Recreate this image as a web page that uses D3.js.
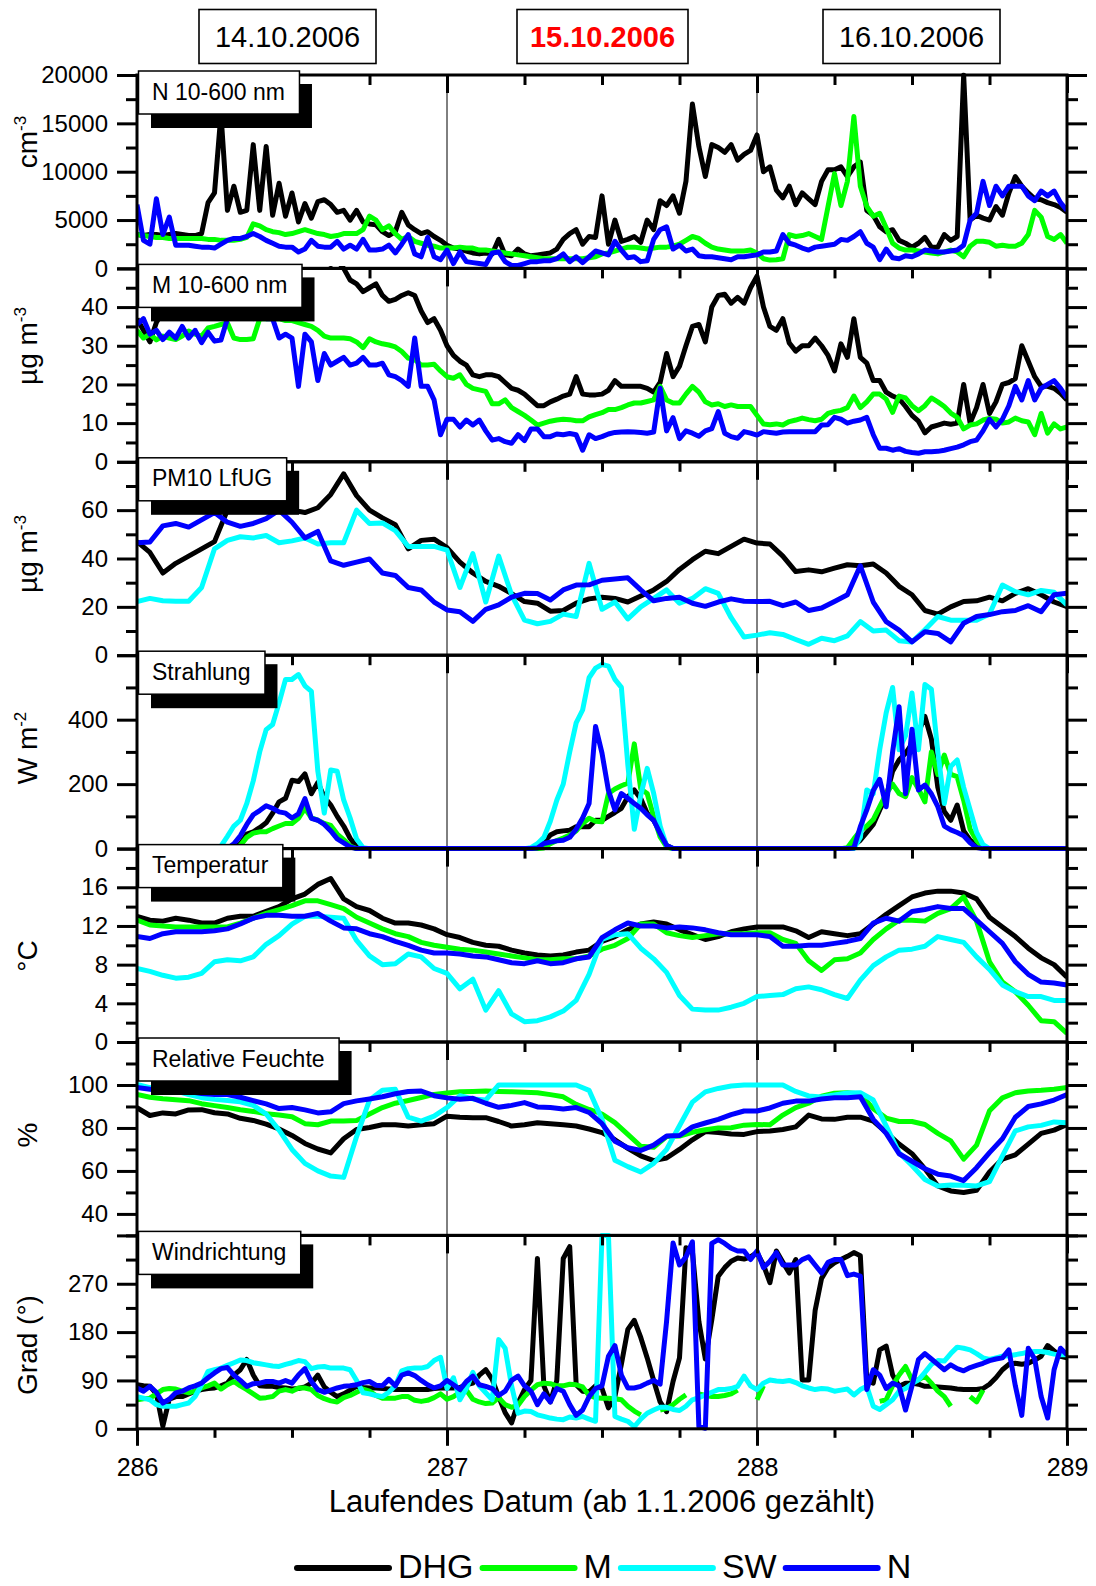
<!DOCTYPE html>
<html><head><meta charset="utf-8">
<script src="https://cdn.jsdelivr.net/npm/d3@7"></script>
<style>
body{margin:0;background:#fff}
svg{display:block}
text{font-family:"Liberation Sans",Arial,Helvetica,sans-serif;fill:#000}
</style>
</head><body>
<svg id="chart" width="1096" height="1586"></svg>
<script>
// ---------------- DATA ----------------
const stations = ["DHG","M","SW","N"];
const stationColors = ["#000000","#00ff00","#00ffff","#0000ff"];
const dayLabels = ["14.10.2006","15.10.2006","16.10.2006"];
const xTicks = [286,287,288,289];
const xMinorTicks = [286.25,286.5,286.75,287.25,287.5,287.75,288.25,288.5,288.75];

// time grids (day of year): half-hourly (145) and hourly (73)
const tHalf = d3.range(145).map(i => 286 + i/48);
const tHour = d3.range(73).map(i => 286 + i/24);

// Panel 1: N 10-600 nm (cm^-3), half-hourly
const nDHG = [3500,3400,3500,3500,3400,3500,3600,3500,3400,3400,3600,
6800,7800,16000,6000,8500,5800,6000,12800,6000,12600,
5500,8800,5400,7800,4800,6700,5200,6900,7100,6600,
5800,6000,5000,6000,4800,4600,4500,3800,3400,3800,
5800,4500,4000,3600,3800,3300,2900,2400,2100,2000,
1800,1600,1500,1600,1500,3000,1400,1300,2000,1500,
1300,1400,1500,1600,2000,3000,3600,4000,2500,3300,
3200,7500,2500,5000,2800,3000,3300,2700,5000,4000,
7000,6500,7500,5700,9000,17000,12600,9500,12800,12500,
12000,12800,11200,11800,12200,13800,10000,10500,8100,7300,
8500,6600,7800,7200,6600,9000,10200,10200,10500,9500,
10500,11000,6000,5500,4300,3800,4000,2900,2600,2200,
2600,3200,2200,2200,3500,2900,3300,20000,5000,5500,
5200,5000,6400,5500,7800,9500,8500,7800,7200,7100,
6800,6600,6300,5800];
const nM = [3500,3400,3300,3200,3200,3100,3100,3100,3100,3100,3100,
3000,3000,2900,2900,2900,3000,3200,4600,4400,4000,
3800,3700,3500,3600,3800,4000,3800,3600,3500,3300,
3400,3600,3600,3600,4000,5400,5000,4000,4400,3600,
3000,3300,2800,2600,2400,2300,2100,2100,2100,2200,
2100,2100,1900,1900,1800,1700,1600,1500,1400,1300,
1200,1100,1000,1000,1000,1000,1000,1000,1000,1100,
1200,1500,1600,1800,2000,2200,2200,2100,2000,2100,
2200,2200,2300,2500,2900,3300,3100,2600,2200,2000,
1900,1800,1800,1800,1900,1600,1000,860,900,1000,
3500,3300,3400,3600,3300,3000,6400,9800,6500,9000,
15700,8500,6400,5400,5700,4200,2600,2100,1900,1900,
1800,1700,1600,1500,1700,1900,1700,1200,2300,2800,
2800,2700,2300,2400,2300,2300,2600,3500,6000,5300,
3300,3000,3500,2600];
const nN = [6600,2900,2500,7200,3500,5300,2400,2400,2400,2300,2200,
2200,2100,2500,2900,3100,3100,3300,3600,3300,2900,
2600,2300,2200,2200,1700,2000,2900,2300,2200,2200,
2800,2000,2400,2000,3000,1900,1900,2000,2400,1600,
2500,3500,1500,1200,3200,1200,900,1900,500,1700,
700,600,500,400,1600,1700,700,300,300,500,
700,700,800,800,1000,1500,700,1200,600,1200,
1800,1600,1400,2800,1900,1100,1200,700,800,3000,
4000,4300,2000,2400,1800,2000,1300,1200,1200,1100,
1000,900,1200,1200,1300,1400,1700,1700,1800,3500,
2600,2400,2100,1900,2200,2300,2400,2500,3000,2900,
3300,3800,2600,2200,900,2000,1100,1000,1300,1200,
1500,1900,1800,1700,1700,1800,1900,2400,5000,5700,
9000,6500,8500,7500,8500,8500,8500,7500,7000,8000,
7500,8000,6800,6000];

// Panel 2: M 10-600 nm (µg m^-3), half-hourly
const mDHG = [37,34,31,36,39,40,41,42,42,43,44,
44,45,46,45,44,45,46,47,48,48,
49,50,51,52,53,54,53,54,52,51,
52,50,47,46,44,45,46,43,41.5,42,
43,43.7,43,39,36,37,34,30,27.5,26,
25,22.5,22,22.5,22.5,22,20.5,19,18.5,17.5,
16,14.5,14.5,15.5,16.2,17,17.5,22,17.5,17.3,
17.3,17.5,18.5,21,19.5,19.5,19.5,19.5,19,18,
20.5,28,22,24.7,30,35,35.5,31,40,43,
43.3,41,42.5,41,45,48,40,35,34,37,
30.7,28.6,30,30,32,30,27.5,23.5,30.5,27,
37,27,25.5,21,21,18,17,16.3,14.3,12,
10.5,7.5,9,9.5,10,9.7,10,20,10,14,
20,12.5,15.5,20,20.5,21.5,30,26,22,19.5,
19.5,19,17.7,16];
const mM = [34,32,33,31.5,32.5,32,31.6,32.5,33.8,33,32.5,
34.6,35,35.5,35.9,32,31.6,31.6,31.8,37,37,
37,37,36.5,36.5,36,35.5,35,34,32.5,32,
32,32,31.8,31,29.5,31.8,31,30.5,30.2,29.7,
28.5,26.8,26.4,25,25,25.2,23.5,22,21.6,22.5,
20,19,18.6,18.2,15,15,16,14,13,12,
10.8,9.5,10,10.5,10.8,11,10.9,10.6,10.6,11.6,
12.2,12.7,13.5,13.5,14,14.7,15.2,15.2,15.6,16,
19.5,16,15.2,15.2,17.5,19.5,18,15.5,14.7,15,
14.3,14.7,14.3,14.3,14.3,12,9.8,9.6,9.8,9.5,
10.4,10.8,11.3,10.9,10.6,11,12.5,13,13.3,14,
17,14,15.5,17.5,17.5,16.2,12.8,17,16.5,14.5,
13.2,14.5,16.5,15.5,14.3,12.6,11.5,8.5,9.5,9.8,
10.8,11.2,11,10,10.3,11.3,10.6,10.3,7,12.5,
7.4,9.8,8.5,9];
const mN = [35.5,37,33,34,31.6,33.5,32,35,32,34,30.8,
33.5,31.2,31.5,37,38,38,38,37,38,37,
37,32,33,32,19.5,33,31,21,28,25,
26,27,25,25.5,27,25,25,25.5,22.5,22,
21,19.5,32,19.5,19.5,16,7,11,11,9,
10.8,9.5,10.8,8,5.6,6,5.2,4.8,7,5.5,
8.5,8.5,6.5,6.5,7.2,7,7.3,7,3,7,
6,6.5,7.2,7.6,7.7,7.8,7.7,7.6,7.4,7.7,
19,8,11.4,6,8,7.4,6.6,8,8.6,13,
7.4,6.5,6.1,7.8,7.4,6.9,7.8,7.6,7.4,7.7,
7.8,7.8,7.8,7.8,7.8,9.5,9.6,11.5,11,10,
10.5,10.8,11.5,7,3.5,3.5,3,3.4,2.7,2.4,
2.2,2.6,2.6,2.7,3,3.4,3.8,4.4,5.2,5.6,
8,11,9,11,14.5,19.5,16,21,16,19,
20,21,19,16.5];

// Panel 3: PM10 LfUG (µg m^-3), hourly
const pmDHG = [47,42.5,34,38,41,44,47,60,61,62,61,
60,60,59,61,66.5,75,66,60,56.8,54,
44,47.5,48,44.5,38.5,34,30.5,28.5,25.5,22.2,
21.5,18.2,18.5,21.5,23.3,24,23.5,22,24.5,27,
30.5,35.5,39.5,43,42,45,48,46.4,46,41,
34.6,35.3,34.5,36,37.4,37,37.7,34,28.5,25,
18.5,17,20,22.2,22.5,24,22.5,25.6,27.5,25,
22,20.1];
const pmSW = [22.2,23.5,22.5,22.3,22.3,28,44,47.5,49,48.5,49.5,
46.5,47.3,48.5,46,46.5,46.5,60,54.5,54.7,51.5,
45,45,45,43.5,28,42,22,41,25,14.5,
13,14,17,16,38,19,22,15,20,23.5,
27,21.5,23.5,27.5,25.6,15.5,7.5,8.3,9.3,8.6,
6.5,4.5,7,6,8,13.9,10,10.4,6,5.5,
10.5,16,14.5,14.5,14.5,17,29,26.3,25,26.8,
26,20.8];
const pmN = [46.5,46.8,53.5,54.5,53,56,59,55,53.3,54.5,56.5,
60,55,48.5,51.2,39,37.2,38.5,39.8,34,33,
28,27,22,18.7,18,14,19,20.8,24,25.6,
25.5,22.8,27,29,29.1,31,31.5,32,27,22.5,
23.5,24,21.5,20.2,22,23.3,22.3,22.2,22.3,20.5,
22,18.5,19.5,22.2,25,37,22,13.9,10.4,5.5,
9.7,9,5.5,13.2,16,16.8,18,18.5,20.5,18,
25,25.6];

// Panel 4: Strahlung (W m^-2), half-hourly
const radDHG = [0,0,0,0,0,0,0,0,0,0,
0,0,0,0,0,0,15,45,52,65,
80,110,145,156,212,208,232,170,205,160,
135,100,70,32,6,0,0,0,0,0,
0,0,0,0,0,0,0,0,0,0,
0,0,0,0,0,0,0,0,0,0,
0,0,5,20,42,52,55,57,68,68,
68,88,88,100,112,125,160,182,155,110,
88,52,10,0,0,0,0,0,0,0,
0,0,0,0,0,0,0,0,0,0,
0,0,0,0,0,0,0,0,0,0,
0,10,26,50,75,120,160,240,275,296,
325,360,410,340,190,115,88,135,55,26,
10,0,0,0,0,0,0,0,0,0,
0,0,0,0,0];
const radM = [0,0,0,0,0,0,0,0,0,0,
0,0,0,0,0,0,10,35,48,52,
52,62,70,78,78,94,125,95,88,78,
72,45,28,8,0,0,0,0,0,0,
0,0,0,0,0,0,0,0,0,0,
0,0,0,0,0,0,0,0,0,0,
0,0,0,2,15,25,33,42,55,78,
94,85,83,171,185,195,203,325,185,171,
99,36,5,0,0,0,0,0,0,0,
0,0,0,0,0,0,0,0,0,0,
0,0,0,0,0,0,0,0,0,0,
3,30,55,70,90,130,170,200,171,161,
220,185,145,300,230,290,230,223,150,60,
25,3,0,0,0,0,0,0,0,0,
0,0,0,0,0];
const radSW = [0,0,0,0,0,0,0,0,0,0,
0,0,0,8,38,70,88,140,210,300,
369,385,452,525,525,540,505,488,240,110,
244,240,151,95,30,3,0,0,0,0,
0,0,0,0,0,0,0,0,0,0,
0,0,0,0,0,0,0,0,0,0,
0,3,15,35,85,150,200,300,390,430,
530,560,571,566,525,500,260,60,165,249,
171,70,8,0,0,0,0,0,0,0,
0,0,0,0,0,0,0,0,0,0,
0,0,0,0,0,0,0,0,0,0,
0,0,35,182,170,307,421,500,307,350,
483,307,509,494,300,140,255,275,190,120,
50,12,0,0,0,0,0,0,0,0,
0,0,0,0,0];
const radN = [0,0,0,0,0,0,0,0,0,0,
0,0,0,0,0,15,40,75,105,118,
133,125,114,110,95,108,155,94,88,75,
55,30,18,5,0,0,0,0,0,0,
0,0,0,0,0,0,0,0,0,0,
0,0,0,0,0,0,0,0,0,0,
0,0,2,16,20,24,26,35,60,95,
140,379,296,180,120,171,156,140,125,105,
88,47,10,0,0,0,0,0,0,0,
0,0,0,0,0,0,0,0,0,0,
0,0,0,0,0,0,0,0,0,0,
0,2,68,120,180,215,130,300,440,170,
370,182,197,170,130,70,58,50,40,18,
3,0,0,0,0,0,0,0,0,0,
0,0,0,0,0];

// Panel 5: Temperatur (°C), hourly
const tDHG = [13,12.6,12.5,12.8,12.6,12.3,12.3,12.8,13,13,
13.5,14,14.8,15.3,16.3,16.9,14.8,14,13.6,12.8,
12.3,12.3,12.1,11.7,11.1,10.8,10.3,10,9.9,9.5,
9.2,9,8.9,9,9.3,9.5,10.4,10.9,11.6,12.2,
12.4,12.2,11.6,11.1,10.6,10.9,11.4,11.7,11.9,11.9,
11.9,11.5,10.8,11.4,11.2,11,11.2,12.2,13.2,14.1,
15,15.4,15.6,15.6,15.4,14.8,12.9,11.9,10.9,9.7,
8.7,8,6.7];
const tM = [12.6,12.1,12,11.9,11.9,11.9,11.9,11.9,12.3,12.8,
13.3,13.7,14.1,14.6,14.6,14.2,13.8,12.9,12.3,11.7,
11.2,10.9,10.3,10,9.8,9.6,9.5,9.3,9.1,8.9,
8.7,8.5,8.5,8.6,8.6,8.9,9.6,10,10.7,12.2,
12.2,11.3,11,10.8,11,11.2,11.2,11.2,11.3,11.3,
10.6,10.2,8.4,7.4,8.5,8.6,9.2,10.6,11.7,12.6,
12.6,12.5,13.3,13.8,15,12.5,8.3,6.2,5.2,3.8,
2.2,2.1,0.9];
const tSW = [7.6,7.3,6.9,6.6,6.7,7.1,8.3,8.5,8.4,8.8,
10.1,11,12.2,13,13,12.9,12.8,10.5,8.9,8,
8.1,9.1,8.8,7.6,7.1,5.5,6.5,3.3,5.3,2.9,
2.1,2.2,2.6,3.2,4.3,7,10.6,11.1,11.2,9.7,
8.6,7.2,4.8,3.4,3.3,3.3,3.6,4,4.7,4.8,
4.9,5.5,5.7,5.4,4.9,4.5,6.4,7.9,8.8,9.5,
9.6,9.9,10.9,10.6,10.3,8.8,7.5,5.9,5.2,4.7,
4.7,4.3,4.3];
const tN = [10.9,10.7,11.2,11.4,11.4,11.4,11.5,11.7,12.2,12.8,
13.1,13.1,13,13,13.3,12.5,11.8,11.7,11.2,10.9,
10.4,10,9.5,9.2,9.2,9.1,8.9,8.8,8.5,8.2,
8.1,8.4,8.1,8.2,8.6,8.8,10.8,11.6,12.3,12,
12,11.8,11.9,11.8,11.6,11.3,11.1,11.1,11.1,10.9,
9.9,9.9,10,10,10.2,10.4,10.7,12.3,12.8,12.5,
13.5,13.7,14,13.8,13.8,12.6,11.4,10.2,8.3,7,
6.2,6.1,5.9];

// Panel 6: Relative Feuchte (%), hourly
const rhDHG = [89.4,85.8,87,86.5,88.4,88.5,87.1,86.5,84.5,83.5,
81.8,79.5,76.5,72.8,70.2,68.4,75,79.3,80.2,81.5,
81.5,80.9,81.5,82,85.5,85,84.8,84.8,83,80.9,
81.5,82.4,82,81.5,80.9,79.5,77.8,74.5,70.5,67,
64.8,66,70,74.5,78.3,77.9,77.2,77,78.3,78.6,
79.3,80.5,86,84.2,84,85,85,83.2,78,72.5,
68,61,53,50.7,50,51,59.5,65.5,67.5,72.5,
77.5,79,81.6];
const rhM = [95.6,94.3,93.6,93.1,92.7,91.3,90.4,89.5,88.5,87.7,
86.6,86,85.2,82,81.5,83.2,83.2,83.5,86.5,89.5,
91.5,92.8,94.2,95.6,96.3,96.8,97,97.2,97,96.8,
96.6,96.4,95.5,94.5,91,88.6,86.5,82.5,77,71.5,
71,76,76.2,78,79.2,80,80.1,81.3,81.6,81.5,
86,89.5,91.5,94.8,96.2,96.4,95.8,89,84.6,83,
83,81.6,77.5,74,65.5,72,88,94,96.4,97.2,
97.5,98,98.8];
const rhSW = [100.3,98.8,98,97.3,95.5,94.1,93.3,92.8,92.2,90.5,
86.5,79,70,63.5,60,57.6,57,76,93,97.5,
98,85,83.2,85.5,89.5,95,93.5,93,100,100,
100,100,100,100,100,97.5,84,65,62,59.5,
63.5,70,81,92,96.8,98.4,99.5,100,100,100,
100,97,94.9,94.4,95.3,96.3,96.4,93,81,68.5,
62.5,56,53,53.5,53.3,53,55,67,78.6,80.5,
81.2,82.8,82.4];
const rhN = [98.8,98,97.3,97.2,97,96,95.6,95.6,94.3,92.7,
91.2,89,89.5,88.4,87,87.5,91.3,92.6,93.5,94.5,
95.9,97,97.2,95,94,93.4,93.8,91.5,89.6,90.5,
91.8,89.8,89.5,88.8,89.5,87.2,82,73.8,70.8,69.5,
72,76.2,76.5,80.5,82.3,84,86.2,87.9,87.9,89.3,
91.5,92.5,92.5,93.5,94.1,94.1,94.5,84,77.5,68,
64.5,61,58.5,57.6,55.5,61.5,68.5,75,85,90,
91.2,93,95.6];

// Panel 7: Windrichtung (Grad), half-hourly (null = no data)
const wdDHG = [82,80,79,65,5,55,60,60,65,70,
73,75,76,80,85,100,110,129,100,80,
79,79,77,76,74,75,78,85,100,78,
68,60,65,72,79,77,76,76,75,74,
73,73,73,73,73,73,75,76,76,76,
77,82,85,100,110,92,60,30,11,48,
73,90,317,80,50,90,317,339,82,70,
69,80,75,39,60,120,185,202,170,132,
90,50,32,88,132,337,330,200,130,203,
284,300,312,318,316,320,328,305,272,331,
310,290,315,91,91,220,280,300,309,315,
321,328,322,90,85,147,154,100,79,85,
85,83,79,79,78,77,76,74,73,73,
73,75,83,95,110,120,122,120,122,128,
135,155,145,135,132];
const wdM = [54,56,57,65,73,75,74,70,67,70,
76,80,85,74,82,88,80,73,65,57,
58,60,70,73,70,76,76,73,62,56,
52,50,58,62,68,74,70,62,57,57,
57,60,60,53,51,53,58,65,55,60,
68,72,55,50,47,48,58,45,40,44,
60,72,82,85,84,80,80,83,82,78,
62,58,57,57,56,54,42,33,26,null,
null,35,38,45,55,63,null,65,62,60,
60,62,65,72,null,null,54,80,null,null,
null,null,null,null,null,null,null,null,null,null,
null,null,null,null,null,51,54,80,100,116,
91,91,98,85,70,60,42,null,null,60,
50,72,null,null,null,null,null,null,null,null,
null,null,null,null,null];
const wdSW = [60,57,54,45,42,42,42,45,48,60,
82,107,110,113,118,123,128,127,123,121,
119,117,116,120,123,127,125,112,115,116,
113,113,113,110,90,67,65,62,60,68,
80,108,112,113,113,116,127,133,75,95,
54,75,105,80,67,54,166,150,80,29,
33,32,26,23,20,18,17,22,20,23,
18,14,360,360,23,18,14,4,18,29,
35,40,40,36,34,42,54,58,63,68,
73,73,75,79,98,80,73,85,91,89,
88,90,86,80,76,73,75,74,70,72,
74,63,73,79,42,36,45,54,70,75,
84,91,105,120,127,126,140,152,150,147,
140,132,129,132,135,136,138,140,143,144,
144,142,139,138,138];
const wdN = [76,70,79,68,48,55,67,70,76,80,
85,95,104,112,114,100,90,79,84,85,
88,88,85,90,85,100,112,88,73,68,
72,76,79,80,82,86,88,81,80,92,
80,100,104,99,90,82,76,80,90,82,
73,88,98,82,79,75,62,70,90,98,
80,70,45,65,50,75,70,45,25,35,
60,75,80,135,155,100,76,76,79,85,
90,83,200,346,305,320,348,4,1,345,
352,345,336,331,331,315,331,300,312,328,
305,305,305,315,320,305,290,310,315,315,
285,288,284,73,110,100,75,85,80,35,
80,129,140,130,120,110,119,112,108,114,
118,122,127,130,132,147,80,25,150,130,
60,20,110,150,138];

// panel definitions (labels, axes, which series)
const panels = [
  {name:"N 10-600 nm", unit:["cm","-3"], dom:[0,20000], major:[0,5000,10000,15000,20000], minor:[2500,7500,12500,17500], lab:[0,5000,10000,15000,20000], t:tHalf, series:[nDHG,nM,null,nN]},
  {name:"M 10-600 nm", unit:["µg m","-3"], dom:[0,50], major:[0,10,20,30,40,50], minor:[5,15,25,35,45], lab:[0,10,20,30,40], t:tHalf, series:[mDHG,mM,null,mN]},
  {name:"PM10 LfUG", unit:["µg m","-3"], dom:[0,80], major:[0,20,40,60,80], minor:[10,30,50,70], lab:[0,20,40,60], t:tHour, series:[pmDHG,null,pmSW,pmN]},
  {name:"Strahlung", unit:["W m","-2"], dom:[0,600], major:[0,200,400,600], minor:[100,300,500], lab:[0,200,400], t:tHalf, series:[radDHG,radM,radSW,radN]},
  {name:"Temperatur", unit:["°C",""], dom:[0,20], major:[0,4,8,12,16,20], minor:[2,6,10,14,18], lab:[0,4,8,12,16], t:tHour, series:[tDHG,tM,tSW,tN]},
  {name:"Relative Feuchte", unit:["%",""], dom:[30,120], major:[40,60,80,100,120], minor:[30,50,70,90,110], lab:[40,60,80,100], t:tHour, series:[rhDHG,rhM,rhSW,rhN]},
  {name:"Windrichtung", unit:["Grad (°)",""], dom:[0,360], major:[0,90,180,270,360], minor:[45,135,225,315], lab:[0,90,180,270], t:tHalf, series:[wdDHG,wdM,wdSW,wdN]}
];

// ---------------- LAYOUT ----------------
const X0 = 137, X1 = 1067, TOP = 75, PH = 193.4;
const titleY = [142, 346, 554, 748, 956, 1135, 1345];
const FONT = '"Liberation Sans",Arial,sans-serif';

const svg = d3.select("#chart");
svg.append("rect").attr("width",1096).attr("height",1586).attr("fill","#fff");
const x = d3.scaleLinear().domain([286,289]).range([X0,X1]);
const defs = svg.append("defs");

// header day boxes
const boxCx = [287.5, 602.5, 911.5], boxW = [177, 171, 177];
dayLabels.forEach((d,i)=>{
  svg.append("rect").attr("x",boxCx[i]-boxW[i]/2).attr("y",9.5).attr("width",boxW[i]).attr("height",54)
    .attr("fill","#fff").attr("stroke","#000").attr("stroke-width",1.6);
  svg.append("text").attr("x",boxCx[i]).attr("y",46.5).attr("text-anchor","middle")
    .style("font-size","29px").style("font-weight", i===1?"bold":"normal")
    .style("fill", i===1?"#ff0000":"#000").text(d);
});

const line = d3.line().defined(d => d[1] != null).x(d => x(d[0]));

panels.forEach((p,i)=>{
  const y0 = TOP + i*PH, y1 = y0 + PH;
  const y = d3.scaleLinear().domain(p.dom).range([y1,y0]);
  const g = svg.append("g");

  // day separator lines
  [287,288].forEach(v => g.append("line").attr("x1",x(v)).attr("x2",x(v)).attr("y1",y0).attr("y2",y1)
    .attr("stroke","#000").attr("stroke-width",1));

  // clip
  const cid = "clip"+i;
  defs.append("clipPath").attr("id",cid).append("rect")
    .attr("x",X0).attr("y",y0-2.5).attr("width",X1-X0).attr("height",PH+5);
  const lg = g.append("g").attr("clip-path",`url(#${cid})`);
  p.series.forEach((s,j)=>{
    if(!s) return;
    const pts = p.t.map((t,k)=>[t, s[k]]);
    lg.append("path").attr("d", line.y(d => y(d[1]))(pts))
      .attr("fill","none").attr("stroke",stationColors[j]).attr("stroke-width",5)
      .attr("stroke-linejoin","round").attr("stroke-linecap","butt");
  });

  // frame
  g.append("rect").attr("x",X0).attr("y",y0).attr("width",X1-X0).attr("height",PH)
    .attr("fill","none").attr("stroke","#000").attr("stroke-width",3);

  const style = sel => { sel.select(".domain").remove();
    sel.selectAll(".tick line").attr("stroke","#000").attr("stroke-width",3);
    sel.selectAll("text").style("font-family",FONT).style("font-size","24px").attr("fill","#000"); };

  // left axis
  g.append("g").attr("transform",`translate(${X0},0)`)
    .call(d3.axisLeft(y).tickValues(p.major).tickSize(20).tickPadding(9)
      .tickFormat(d => p.lab.includes(d) ? String(d) : "")).call(style);
  g.append("g").attr("transform",`translate(${X0},0)`)
    .call(d3.axisLeft(y).tickValues(p.minor).tickSize(11).tickFormat("")).call(style);
  // right axis
  g.append("g").attr("transform",`translate(${X1},0)`)
    .call(d3.axisRight(y).tickValues(p.major).tickSize(20).tickFormat("")).call(style);
  g.append("g").attr("transform",`translate(${X1},0)`)
    .call(d3.axisRight(y).tickValues(p.minor).tickSize(11).tickFormat("")).call(style);
  // top ticks (inward)
  g.append("g").attr("transform",`translate(0,${y0})`)
    .call(d3.axisBottom(x).tickValues(xMinorTicks).tickSize(10).tickFormat("")).call(style);
  g.append("g").attr("transform",`translate(0,${y0})`)
    .call(d3.axisBottom(x).tickValues(xTicks).tickSize(18).tickFormat("")).call(style);

  // y title
  const tt = svg.append("text").attr("transform",`translate(37,${titleY[i]}) rotate(-90)`)
    .attr("text-anchor","middle").style("font-size","28px");
  tt.append("tspan").text(p.unit[0]);
  if(p.unit[1]) tt.append("tspan").attr("dy",-11).style("font-size","17px").text(p.unit[1]);

  // label box with shadow
  const lb = svg.append("g");
  const shadow = lb.append("rect"), box = lb.append("rect");
  const txt = lb.append("text").attr("x",X0+15).attr("y",y0+24.5).style("font-size","23px").text(p.name);
  const w = txt.node().getComputedTextLength() + 28;
  shadow.attr("x",X0+14).attr("y",y0+9).attr("width",w).attr("height",44).attr("fill","#000");
  box.attr("x",X0+1.5).attr("y",y0-4).attr("width",w).attr("height",43)
    .attr("fill","#fff").attr("stroke","#000").attr("stroke-width",1.5);

  // bottom axis for last panel
  if(i === panels.length-1){
    const b = svg.append("g").attr("transform",`translate(0,${y1})`);
    b.call(d3.axisBottom(x).tickValues(xMinorTicks).tickSize(9).tickFormat("")).call(style);
    const b2 = svg.append("g").attr("transform",`translate(0,${y1})`);
    b2.call(d3.axisBottom(x).tickValues(xTicks).tickSize(17).tickPadding(12).tickFormat(d=>String(d))).call(style);
    b2.selectAll("text").style("font-size","25px");
  }
});

// x-axis title
svg.append("text").attr("x",602).attr("y",1512).attr("text-anchor","middle")
  .style("font-size","31px").text("Laufendes Datum (ab 1.1.2006 gezählt)");

// legend
let lx = 297;
const ly = 1568;
stations.forEach((s,j)=>{
  svg.append("line").attr("x1",lx).attr("x2",lx+92).attr("y1",ly).attr("y2",ly)
    .attr("stroke",stationColors[j]).attr("stroke-width",6).attr("stroke-linecap","round");
  const t = svg.append("text").attr("x",lx+101).attr("y",1578).style("font-size","34px").text(s);
  lx = lx + 101 + t.node().getComputedTextLength() + 9;
});
</script>
</body></html>
